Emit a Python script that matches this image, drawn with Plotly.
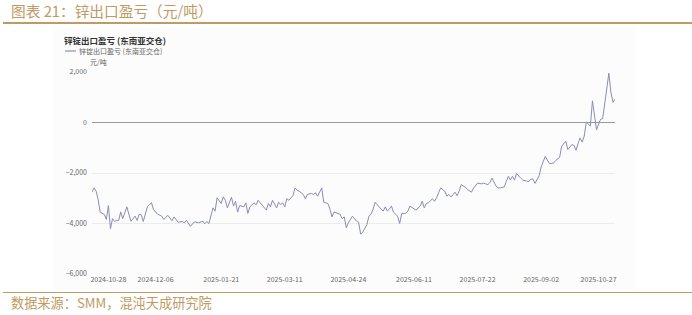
import plotly.graph_objects as go

# ---- data ----
day_index = [0, 1, 2, 3, 4, 6, 7, 8, 9, 10, 11, 12, 13, 14, 15, 17, 18, 19, 21, 22, 23, 24, 25, 27, 28, 29, 30, 32,
             34, 35, 37, 39, 40, 42, 44, 45, 46, 48, 50, 52, 54, 55, 56, 57, 59, 60, 61, 63, 64, 65, 66, 68, 69, 70,
             71, 72, 74, 75, 76, 77, 79, 80, 81, 83, 85, 86, 87, 88, 90, 91, 92, 93, 94, 95, 96, 98, 99, 100, 101,
             103, 104, 105, 107, 108, 109, 110, 111, 112, 113, 115, 116, 117, 118, 120, 121, 122, 123, 124, 125, 127,
             128, 129, 130, 131, 132, 134, 135, 136, 137, 138, 140, 142, 143, 144, 145, 146, 147, 149, 150, 151, 153,
             154, 155, 157, 158, 160, 161, 162, 163, 164, 166, 167, 168, 169, 170, 172, 173, 174, 175, 177, 178, 179,
             180, 182, 183, 185, 186, 188, 190, 191, 193, 194, 195, 197, 198, 199, 201, 202, 203, 204, 205, 206, 207,
             209, 210, 212, 213, 214, 215, 216, 218, 219, 220, 221, 223, 224, 225, 226, 228, 229, 230, 231, 232, 234,
             235, 236, 237, 238, 239, 240, 241, 242, 243, 244, 246, 247, 248, 249, 250, 251, 252, 253, 254, 255]
profit = [-2760, -2590, -2720, -3050, -3550, -3640, -3840, -3290, -4210, -3810, -3920, -3870, -3880, -3540, -3810,
          -3340, -3640, -3910, -3710, -3880, -3630, -3660, -3920, -3340, -3250, -3180, -3450, -3630,
          -3710, -3840, -3680, -3890, -3740, -3950, -3920, -3970, -3870, -4110, -3930, -3970, -3910, -4010, -3920,
          -4000, -3380, -3510, -2980, -3210, -2940, -3080, -3380, -2960, -3310, -3120,
          -3550, -3290, -3340, -3180, -3600, -3340, -3180, -3260, -3080, -3260, -3470, -3210, -3340, -3080, -3380,
          -3160, -3250, -3180, -3340, -3020, -3080, -2890, -2590, -2680, -2720,
          -2850, -3020, -2850, -2810, -2850, -2780, -2920, -2760, -2590, -3160, -3210, -3420, -3740, -3540, -3600,
          -3640, -3810, -3740, -4170, -3970, -3710,
          -3810, -3910, -3950, -4420, -4340, -4050, -3710, -3640, -3450, -3160, -3340, -3510, -3340, -3510, -3420,
          -3310, -3550, -3710, -4000, -3600, -3600,
          -3510, -3310, -3420, -3470, -3310, -3120, -3380, -3210, -3180, -3020, -3120, -2980, -2780, -2590, -2720,
          -2920, -2850, -2950, -2760, -2900, -2720,
          -2460, -2560, -2650, -2760, -2600, -2400, -2430, -2400, -2460, -2380, -2200, -2520, -2590, -2590, -2550,
          -2330, -2130, -2280, -2130, -2280, -2020,
          -2200, -2280, -2320, -2340, -2240, -2240, -2410, -2110, -1760, -1550, -1340, -1630, -1620, -1610, -1510,
          -1380, -940, -830, -740, -1070, -870,
          -910, -1100, -830, -610, -780, -540, 20, -60, -140, 860, -290, -60, 130, 150, 790, 1380, 1950, 1200, 800, 920]

tick_days = [8, 31, 63, 94, 125, 157, 188, 219, 247]
tick_labels = ["2024-10-28", "2024-12-06", "2025-01-21", "2025-03-11", "2025-04-24",
               "2025-06-11", "2025-07-22", "2025-09-02", "2025-10-27"]
y_ticks = [-6000, -4000, -2000, 0, 2000]

series_name = "锌锭出口盈亏 (东南亚交仓)"
chart_title = "锌锭出口盈亏 (东南亚交仓)"
header = "图表 21：锌出口盈亏（元/吨）"
footer = "数据来源：SMM，混沌天成研究院"
unit = "元/吨"

# ---- layout geometry ----
W, H = 692, 315
L, R, T, B = 92, 77, 72, 41
PW, PH = W - L - R, H - T - B
FONT = "Noto Sans CJK SC"
GOLD = "#c09a62"
LINE = "#8a8db6"


def px(xp):
    return (xp - L) / PW


def py(yp):
    return (H - B - yp) / PH


fig = go.Figure()
fig.add_trace(go.Scatter(x=day_index, y=profit, mode="lines", name=series_name,
                         line=dict(color=LINE, width=1), showlegend=False))

shapes = [
    # faint chart panel
    dict(type="rect", xref="paper", yref="paper", x0=px(53), x1=px(636), y0=py(291), y1=py(28),
         fillcolor="#fcfcfc", line=dict(width=0), layer="below"),
    # header underline
    dict(type="line", xref="paper", yref="paper", x0=px(3), x1=px(692), y0=py(23), y1=py(23),
         line=dict(color=GOLD, width=2)),
    # footer line
    dict(type="line", xref="paper", yref="paper", x0=px(3), x1=px(692), y0=py(292.5), y1=py(292.5),
         line=dict(color=GOLD, width=1)),
    # legend symbol
    dict(type="line", xref="paper", yref="paper", x0=px(65), x1=px(76), y0=py(51), y1=py(51),
         line=dict(color=LINE, width=1.2)),
]

annotations = [
    dict(text=header, xref="paper", yref="paper", x=px(9), y=py(11), xanchor="left", yanchor="middle",
         showarrow=False, font=dict(family=FONT, size=14.7, color=GOLD)),
    dict(text=footer, xref="paper", yref="paper", x=px(9), y=py(302), xanchor="left", yanchor="middle",
         showarrow=False, font=dict(family=FONT, size=13.2, color=GOLD)),
    dict(text="<b>" + chart_title + "</b>", xref="paper", yref="paper", x=px(63), y=py(39.5),
         xanchor="left", yanchor="middle", showarrow=False, borderpad=0,
         font=dict(family=FONT, size=8.5, color="#333333")),
    dict(text=series_name, xref="paper", yref="paper", x=px(78), y=py(51.5),
         xanchor="left", yanchor="middle", showarrow=False, borderpad=0,
         font=dict(family=FONT, size=7, color="#666666")),
    dict(text=unit, xref="paper", yref="paper", x=px(98), y=py(62.5),
         xanchor="center", yanchor="middle", showarrow=False, borderpad=0,
         font=dict(family=FONT, size=7, color="#666666")),
]

fig.update_layout(
    width=W, height=H,
    margin=dict(l=L, r=R, t=T, b=B, pad=0),
    paper_bgcolor="white", plot_bgcolor="rgba(0,0,0,0)",
    font=dict(family=FONT, size=7, color="#666666"),
    shapes=shapes, annotations=annotations,
    xaxis=dict(range=[0, 255], tickmode="array", tickvals=tick_days, ticktext=tick_labels,
               showgrid=False, zeroline=False, showline=False, ticks="", ticklen=0,
               tickfont=dict(size=7, color="#666666")),
    yaxis=dict(range=[-6000, 2000], tickmode="array", tickvals=y_ticks, tickformat=",",
               showgrid=True, gridcolor="#ececec", gridwidth=1,
               zeroline=True, zerolinecolor="#999999", zerolinewidth=1,
               showline=False, ticks="", ticklen=0, ticklabelstandoff=4,
               tickfont=dict(size=7, color="#666666")),
)

fig.write_html("out.html")
